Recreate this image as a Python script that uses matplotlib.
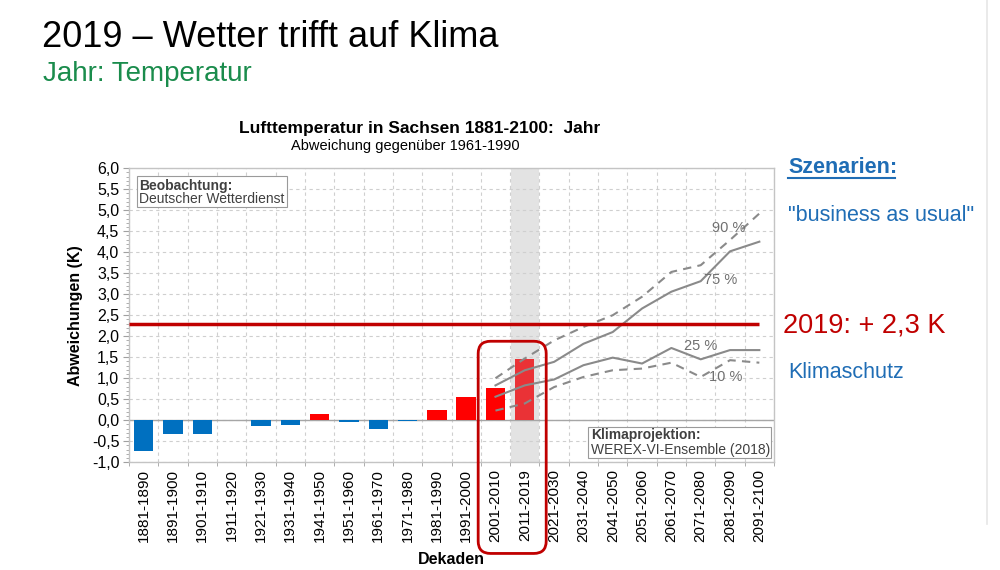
import matplotlib
matplotlib.use("Agg")
import matplotlib.pyplot as plt
from matplotlib.patches import FancyBboxPatch, Rectangle
from matplotlib.ticker import FixedLocator, MultipleLocator, FuncFormatter
import numpy as np

plt.rcParams['font.family'] = ['Liberation Sans', 'DejaVu Sans']

# Dekaden
decades = ['1881-1890', '1891-1900', '1901-1910', '1911-1920', '1921-1930',
           '1931-1940', '1941-1950', '1951-1960', '1961-1970', '1971-1980',
           '1981-1990', '1991-2000', '2001-2010', '2011-2019', '2021-2030',
           '2031-2040', '2041-2050', '2051-2060', '2061-2070', '2071-2080',
           '2081-2090', '2091-2100']

# Beobachtung (DWD), Abweichung gegenueber 1961-1990 in K
observed = [-0.73, -0.33, -0.32, 0.0, -0.14, -0.12, 0.14, -0.04, -0.20,
            -0.02, 0.245, 0.56, 0.76, 1.45]

# Klimaprojektion WEREX-VI, ab 2001-2010
proj_start = 12
p90 = [1.00, 1.47, 1.90, 2.22, 2.50, 2.94, 3.53, 3.69, 4.29, 4.92]
p75 = [0.83, 1.19, 1.39, 1.82, 2.10, 2.66, 3.06, 3.31, 4.02, 4.25]
p25 = [0.56, 0.83, 0.97, 1.31, 1.49, 1.35, 1.72, 1.45, 1.67, 1.67]
p10 = [0.23, 0.40, 0.79, 1.03, 1.19, 1.23, 1.37, 1.03, 1.43, 1.37]

year_2019 = 2.3

fig = plt.figure(figsize=(10, 5.7), dpi=100)
ax = fig.add_axes([0.129, 0.189, 0.645, 0.516])

n = len(decades)
x = np.arange(n)
xo = np.arange(len(observed))
xp = np.arange(proj_start, proj_start + len(p90))

# grauer Balken 2011-2019
ax.axvspan(13 - 0.48, 13 + 0.48, color='#e3e3e3', zorder=0, lw=0)

colors = []
for i, v in enumerate(observed):
    if v < 0:
        colors.append('#0070c0')
    elif i == 13:
        colors.append('#ea3236')
    else:
        colors.append('#ff0000')
ax.bar(xo, observed, width=0.66, color=colors, zorder=3)

ax.axhline(0, color='#a6a6a6', lw=1, zorder=2)

gray = '#8a8a8a'
ax.plot(xp, p90, color=gray, lw=1.5, ls=(0, (4, 3)), zorder=4)
ax.plot(xp, p75, color=gray, lw=1.5, zorder=4)
ax.plot(xp, p25, color=gray, lw=1.5, zorder=4)
ax.plot(xp, p10, color=gray, lw=1.5, ls=(0, (4, 3)), zorder=4)

ax.text(19.94, 4.57, '90 %', color='#707070', fontsize=10.5, ha='center', va='center', zorder=5)
ax.text(19.67, 3.33, '75 %', color='#707070', fontsize=10.5, ha='center', va='center', zorder=5)
ax.text(18.99, 1.76, '25 %', color='#707070', fontsize=10.5, ha='center', va='center', zorder=5)
ax.text(19.84, 1.02, '10 %', color='#707070', fontsize=10.5, ha='center', va='center', zorder=5)

ax.hlines(year_2019, -0.5, 21, color='#c00000', lw=2.5, zorder=6)

ax.set_xlim(-0.5, n - 0.5)
ax.set_ylim(-1.0, 6.0)
ax.set_xticks(x)
ax.set_xticklabels(decades, rotation=90, fontsize=11)
ax.xaxis.set_minor_locator(FixedLocator(np.arange(-0.5, n, 1.0)))
ax.yaxis.set_major_locator(MultipleLocator(0.5))
ax.yaxis.set_minor_locator(MultipleLocator(0.1))
ax.yaxis.set_major_formatter(FuncFormatter(lambda v, p: f'{v:.1f}'.replace('.', ',')))
ax.tick_params(axis='y', labelsize=11.5, length=4, color='#a0a0a0', pad=3)
ax.tick_params(axis='y', which='minor', length=2, color='#a0a0a0')
ax.tick_params(axis='x', which='major', length=0, pad=5)
ax.tick_params(axis='x', which='minor', length=3, color='#a0a0a0')

ax.grid(axis='y', which='major', color='#cfcfcf', ls=(0, (3, 3)), lw=0.8)
ax.grid(axis='x', which='minor', color='#cfcfcf', ls=(0, (3, 3)), lw=0.8)
ax.set_axisbelow(True)
for s in ax.spines.values():
    s.set_color('#c4c4c4')
    s.set_linewidth(1)

ax.set_ylabel('Abweichungen (K)', fontsize=11.5, fontweight='bold', labelpad=6)
ax.set_xlabel('Dekaden', fontsize=11.5, fontweight='bold', labelpad=7)

# Quellen-Boxen
ax.add_patch(Rectangle((0.0124, 0.867), 0.233, 0.106, transform=ax.transAxes,
                       facecolor='white', edgecolor='#9a9a9a', lw=0.8, zorder=7))
ax.text(0.016, 0.94, 'Beobachtung:', transform=ax.transAxes, fontsize=10,
        fontweight='bold', color='#404040', va='center', zorder=8)
ax.text(0.016, 0.895, 'Deutscher Wetterdienst', transform=ax.transAxes, fontsize=10,
        color='#404040', va='center', zorder=8)

ax.add_patch(Rectangle((0.712, 0.0136), 0.283, 0.108, transform=ax.transAxes,
                       facecolor='white', edgecolor='#9a9a9a', lw=0.8, zorder=7))
ax.text(0.716, 0.092, 'Klimaprojektion:', transform=ax.transAxes, fontsize=10,
        fontweight='bold', color='#404040', va='center', zorder=8)
ax.text(0.716, 0.042, 'WEREX-VI-Ensemble (2018)', transform=ax.transAxes, fontsize=10,
        color='#404040', va='center', zorder=8)

# roter Rahmen um 2001-2019
rx0, rx1, ry0, ry1 = 11.41, 13.73, -3.17, 1.88
box = FancyBboxPatch((rx0, ry0), rx1 - rx0, ry1 - ry0,
                     boxstyle='round,pad=0,rounding_size=0.42',
                     mutation_aspect=29.3 / 42.0,
                     facecolor='none', edgecolor='#c00000', lw=2,
                     clip_on=False, zorder=9)
ax.add_patch(box)

# Titel
fig.text(0.4195, 0.7667, 'Lufttemperatur in Sachsen 1881-2100:  Jahr',
         fontsize=12.5, fontweight='bold', ha='center', va='baseline')
fig.text(0.405, 0.7368, 'Abweichung gegenüber 1961-1990', fontsize=10.5,
         ha='center', va='baseline')

fig.text(0.042, 0.9175, '2019 – Wetter trifft auf Klima', fontsize=26, va='baseline')
fig.text(0.043, 0.858, 'Jahr: Temperatur', fontsize=20, color='#1a8c4c', va='baseline')

blue = '#1f6db5'
sz = fig.text(0.788, 0.6965, 'Szenarien:', fontsize=15.5, fontweight='bold', color=blue, va='baseline')
fig.text(0.788, 0.6123, '"business as usual"', fontsize=15.5, color=blue, va='baseline')
fig.text(0.783, 0.4158, '2019: + 2,3 K', fontsize=19.5, color='#c00000', va='baseline')
fig.text(0.788, 0.3368, 'Klimaschutz', fontsize=15.5, color=blue, va='baseline')

fig.canvas.draw()
bb = sz.get_window_extent().transformed(fig.transFigure.inverted())
fig.add_artist(plt.Line2D([0.788, bb.x1 - 0.002], [0.6965 - 0.009, 0.6965 - 0.009],
                          color=blue, lw=1.5, transform=fig.transFigure))

fig.add_artist(plt.Line2D([0.987, 0.987], [0.08, 1.0], color='#e6e6e6', lw=1.2,
                          transform=fig.transFigure))

fig.savefig('out.png', dpi=100)
